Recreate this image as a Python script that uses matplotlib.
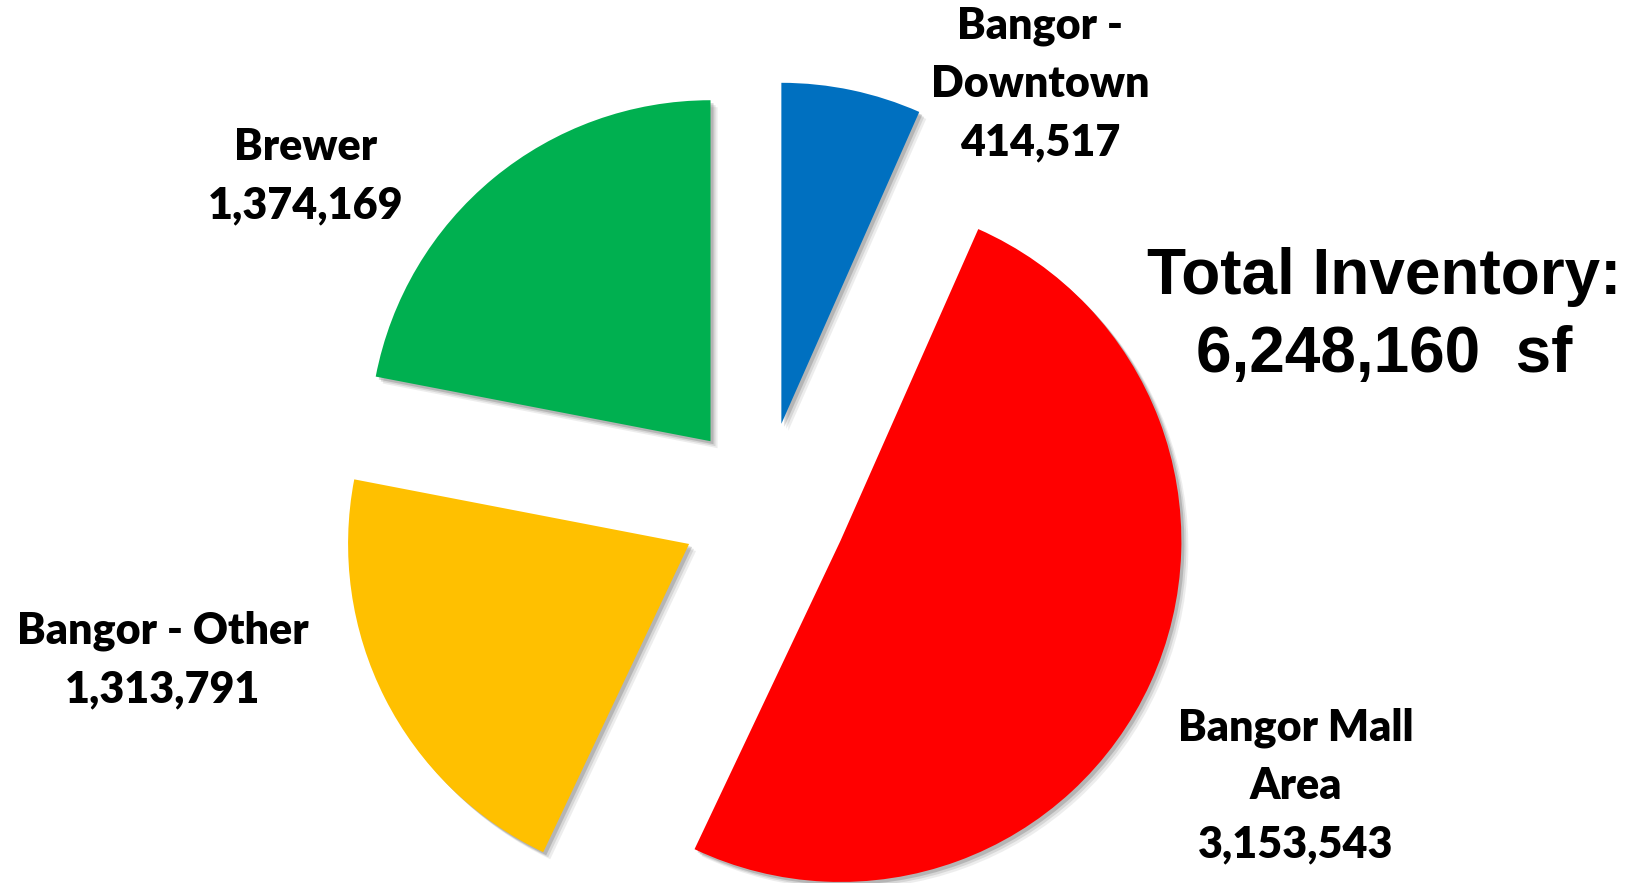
import matplotlib.pyplot as plt

# inventory by submarket (sf)
areas = ['Bangor -\nDowntown', 'Bangor Mall\nArea', 'Bangor - Other', 'Brewer']
inventory = [414517, 3153543, 1313791, 1374169]
colors = ['#0070C0', '#FF0000', '#FFC000', '#00B050']
total_label = 'Total Inventory:\n6,248,160  sf'

W, H = 1635, 883
fig = plt.figure(figsize=(W / 100, H / 100), dpi=100)
ax = fig.add_axes([0, 0, 1, 1])

cx, cy, r = 764, H - 506, 341
explode = [84] * len(inventory)  # pie explode is in data units here

# soft shadow under the slices
for k, a in [(7, 0.10), (5, 0.15), (3, 0.25)]:
    ax.pie(inventory, explode=explode, startangle=90, counterclock=False,
           radius=r, center=(cx + k, cy - k), colors=['#555555'] * 4,
           wedgeprops=dict(alpha=a, linewidth=0), frame=True)

ax.pie(inventory, explode=explode, startangle=90, counterclock=False,
       radius=r, center=(cx, cy), colors=colors,
       wedgeprops=dict(linewidth=0), frame=True)
ax.set_xlim(0, W)
ax.set_ylim(0, H)
ax.set_aspect('equal')
ax.axis('off')

lbl_pos = [(1040, H - 84), (1296, H - 786), (163, H - 660), (306, H - 176)]
for name, val, (x, y) in zip(areas, inventory, lbl_pos):
    ax.text(x, y, f'{name}\n{val:,}', ha='center', va='center',
            fontsize=31, fontweight='heavy', family='Lato', linespacing=1.55)

ax.text(1384, H - 316, total_label, ha='center', va='center',
        fontsize=46, fontweight='bold', family='Liberation Sans', linespacing=1.38)

fig.savefig('out.png', dpi=100)
